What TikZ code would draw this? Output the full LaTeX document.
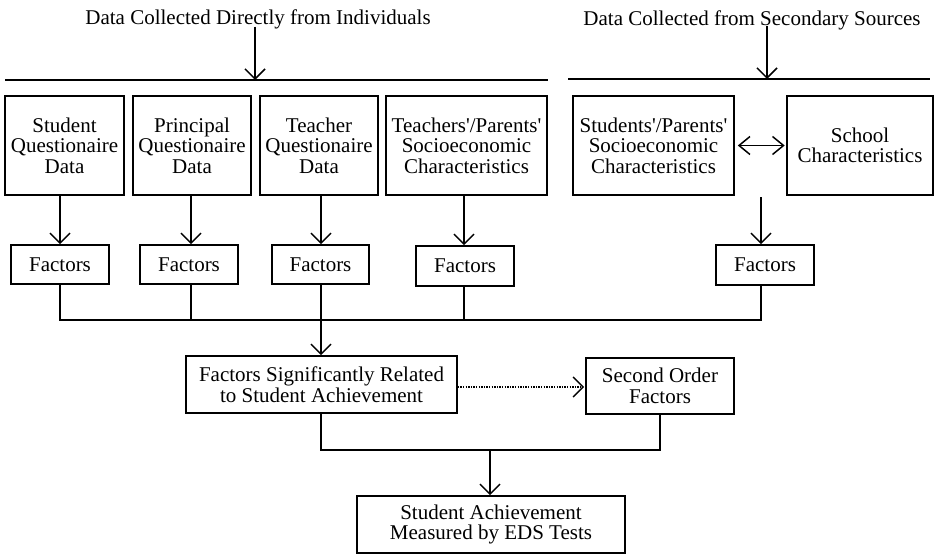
\documentclass[tikz,border=0pt]{standalone}
\usepackage{fontspec}
\setmainfont{Liberation Serif}[Ligatures=TeXOff]
\usetikzlibrary{arrows.meta}
\begin{document}
\begin{tikzpicture}[x=1pt,y=-1pt,
  every node/.style={font=\fontsize{21}{20.5}\selectfont, align=center, inner sep=0pt},
  box/.style={draw, line width=1.6pt},
  conn/.style={line width=1.5pt},
  arr/.style={conn, -{Straight Barb[length=10pt,width=20pt,line width=1.5pt]}},
  darr/.style={conn, {Straight Barb[length=11pt,width=18pt,line width=1.5pt]}-{Straight Barb[length=11pt,width=18pt,line width=1.5pt]}},
  dotarr/.style={line width=1.3pt, dash pattern=on 1.3pt off 1.3pt, -{Straight Barb[length=10pt,width=20pt,line width=1.5pt]}}]
\useasboundingbox (0,0) rectangle (936,554);

% titles
\node[anchor=base] (t1) at (258,24) {Data Collected Directly from Individuals};
\node[anchor=base] (t2) at (752,25) {Data Collected from Secondary Sources};

% column x coordinates
\coordinate (c1) at (60,0);
\coordinate (c2) at (191,0);
\coordinate (c3) at (321,0);
\coordinate (c4) at (464,0);
\coordinate (c5) at (761,0);
\coordinate (a1) at (255,0);
\coordinate (a2) at (767,0);

% horizontal lines
\coordinate (l1a) at (5,80);
\coordinate (l1b) at (548,80);
\coordinate (l2a) at (568,79);
\coordinate (l2b) at (930,79);
\draw[conn] (l1a) -- (l1b);
\draw[conn] (l2a) -- (l2b);
\draw[arr] (t1.south -| a1) ++(0,-2) coordinate (s1) -- (l1a -| a1);
\draw[arr] (t2.south -| a2) ++(0,-4) coordinate (s2) -- (l2a -| a2);

% top row boxes
\node[box, minimum width=119, minimum height=99] (b1) at (64.5,145.5) {Student\\Questionaire\\Data};
\node[box, minimum width=118, minimum height=99] (b2) at (192,145.5) {Principal\\Questionaire\\Data};
\node[box, minimum width=118, minimum height=99] (b3) at (319,145.5) {Teacher\\Questionaire\\Data};
\node[box, minimum width=161, minimum height=99] (b4) at (466.5,145.5) {Teachers'/Parents'\\Socioeconomic\\Characteristics};
\node[box, minimum width=161, minimum height=99] (b5) at (653.5,145.5) {Students'/Parents'\\Socioeconomic\\Characteristics};
\node[box, minimum width=146, minimum height=99] (b6) at (860,145.5) {School\\Characteristics};
\draw[darr, shorten <=3pt, shorten >=1.5pt] (b5.east) -- (b6.west);

% factors row
\node[box, minimum width=98, minimum height=39] (f1) at (60,264.5) {Factors};
\node[box, minimum width=98, minimum height=39] (f2) at (189,264.5) {Factors};
\node[box, minimum width=97, minimum height=39] (f3) at (320.5,264.5) {Factors};
\node[box, minimum width=98, minimum height=40] (f4) at (465,266) {Factors};
\node[box, minimum width=98, minimum height=40] (f5) at (765,265) {Factors};

\draw[arr] (b1.south -| c1) -- (f1.north -| c1);
\draw[arr] (b2.south -| c2) -- (f2.north -| c2);
\draw[arr] (b3.south -| c3) -- (f3.north -| c3);
\draw[arr] (b4.south -| c4) -- (f4.north -| c4);
\coordinate (s5) at (761,197);
\draw[arr] (s5) -- (f5.north -| c5);

% bus
\coordinate (bus) at (0,320);
\draw[conn] (f1.south -| c1) -- (bus -| c1) -- (bus -| c5) -- (f5.south -| c5);
\draw[conn] (f2.south -| c2) -- (bus -| c2);
\draw[conn] (f3.south -| c3) -- (bus -| c3);
\draw[conn] (f4.south -| c4) -- (bus -| c4);

% middle row
\node[box, minimum width=271, minimum height=57] (fsr) at (321.5,384.5) {Factors Significantly Related\\to Student Achievement};
\node[box, minimum width=148, minimum height=56] (sof) at (660,386) {Second Order\\Factors};
\draw[arr] (bus -| c3) -- (fsr.north -| c3);
\coordinate (dy) at (0,387);
\draw[dotarr, shorten >=1pt] (fsr.east |- dy) -- (sof.west |- dy);

% bottom
\coordinate (bus2) at (0,450);
\coordinate (c6) at (490,0);
\draw[conn] (fsr.south -| c3) -- (bus2 -| c3) -- (bus2 -| sof.south) -- (sof.south);
\node[box, minimum width=268, minimum height=57] (sa) at (491,524.5) {Student Achievement\\Measured by EDS Tests};
\draw[arr] (bus2 -| c6) -- (sa.north -| c6);
\end{tikzpicture}
\end{document}
